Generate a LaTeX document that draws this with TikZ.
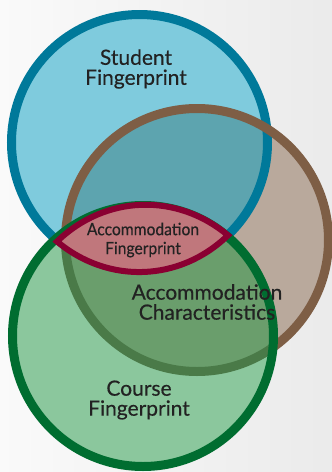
\documentclass[tikz,border=0pt]{standalone}
\usepackage{fontspec}
\setmainfont{Lato}[FakeBold=0.35]
\definecolor{blueF}{HTML}{7FCBDD}
\definecolor{blueS}{HTML}{00799A}
\definecolor{tealF}{HTML}{5DA4AF}
\definecolor{brownF}{HTML}{B9A99C}
\definecolor{brownS}{HTML}{7E5E45}
\definecolor{greenF}{HTML}{8BC79D}
\definecolor{greenS}{HTML}{006D30}
\definecolor{greenBrownF}{HTML}{6A9E6C}
\definecolor{brownInGreen}{HTML}{4A7A48}
\definecolor{lensF}{HTML}{C0777C}
\definecolor{lensS}{HTML}{8A0032}
\definecolor{txt}{HTML}{222222}
\tikzset{
  ring/.style={line width=9pt},
  bigtext/.style={text=txt, align=center, inner sep=0pt, font=\fontsize{21}{20}\selectfont},
  lenstext/.style={text=txt, align=center, inner sep=0pt, font=\fontsize{17}{19}\selectfont},
}
\begin{document}
\begin{tikzpicture}[x=1pt,y=-1pt]
\useasboundingbox (0,0) rectangle (332,472);
\shade[left color=white!98!black, right color=white!92!black] (0,0) rectangle (332,472);
\coordinate (cb) at (139.5,142.5);
\coordinate (cr) at (197,240);
\coordinate (cg) at (143,336);
\def\blueC{(cb) circle (128)}
\def\brownC{(cr) circle (131.5)}
\def\greenC{(cg) circle (130.5)}
% blue circle
\fill[blueF] \blueC;
% brown fill
\fill[brownF] \brownC;
\begin{scope}\clip \blueC; \fill[tealF] \brownC; \end{scope}
\draw[blueS, ring] \blueC;
\draw[brownS, ring] \brownC;
% green
\fill[greenF] \greenC;
\begin{scope}\clip \greenC; \fill[greenBrownF] \brownC; \draw[brownInGreen, ring] \brownC; \end{scope}
\draw[greenS, ring] \greenC;
% lens
\coordinate (tipL) at (57,241.5);
\coordinate (tipR) at (228,235.3);
\draw[lensS, fill=lensF, line width=6pt, miter limit=10] (tipL) to[bend left=42] (tipR) to[bend left=42] (tipL) -- cycle;
% texts
\node[bigtext] (student) at (136,69) {Student\\Fingerprint};
\node[bigtext] (course) at (139,400) {Course\\Fingerprint};
\node[bigtext] (charac) at (207,302) {Accommodation\\Characteristics};
\node[lenstext] (accfp) at (143,240) {\scalebox{0.92}[1]{Accommodation}\\\scalebox{0.92}[1]{Fingerprint}};
\end{tikzpicture}
\end{document}
